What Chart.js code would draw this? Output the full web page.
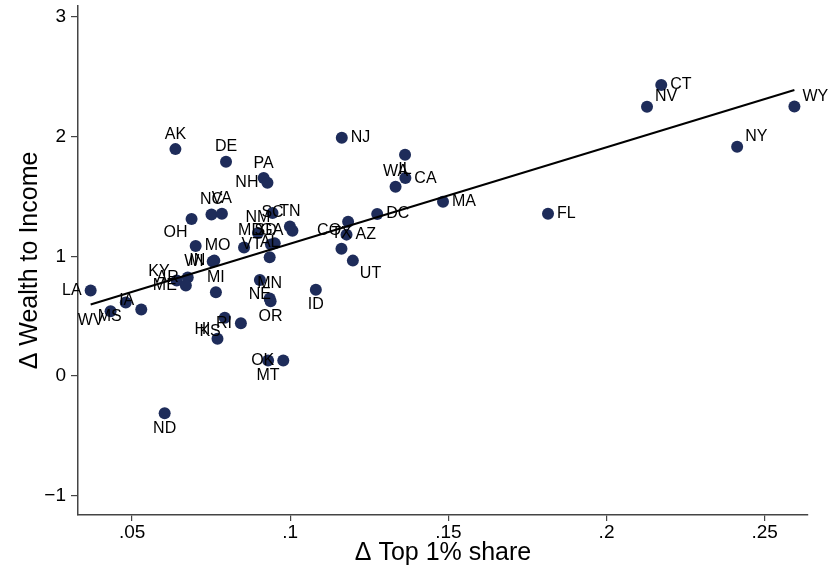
<!DOCTYPE html>
<html><head><meta charset="utf-8">
<script src="https://cdn.jsdelivr.net/npm/chart.js@4.4.1/dist/chart.umd.min.js"></script>
<style>html,body{margin:0;padding:0;background:#fff}#wrap{width:831px;height:571px}</style>
</head><body><div id="wrap"><canvas id="c" width="831" height="571"></canvas></div>
<script>
const states = ['WY','NY','CT','NV','FL','MA','NJ','IL','CA','WA','DC','CO','AZ','TX','UT','ID',
 'AK','DE','PA','NH','NC','VA','OH','MO','WI','IN','KY','AR','ME','MI','LA','IA','MS','WV',
 'KS','RI','HI','MN','NE','OR','OK','MT','ND','SC','TN','GA','SD','AL','VT','NM','MD'];
const top1Change = [0.2594,0.2413,0.2173,0.2128,0.1815,0.1483,0.1163,0.1363,0.1364,0.1333,0.1275,0.1183,0.1178,0.1162,0.1198,0.1081,
 0.0637,0.0797,0.0916,0.0928,0.0751,0.0784,0.0688,0.0701,0.0755,0.0760,0.0641,0.0676,0.0670,0.0765,0.0369,0.0529,0.0480,0.0432,
 0.0793,0.0844,0.0770,0.0935,0.0904,0.0938,0.0978,0.0930,0.0603,0.0944,0.0999,0.1007,0.0951,0.0935,0.0939,0.0898,0.0854];
const wealthIncomeChange = [2.25,1.914,2.431,2.248,1.356,1.456,1.989,1.848,1.653,1.581,1.353,1.289,1.181,1.064,0.964,0.720,
 1.895,1.789,1.653,1.614,1.350,1.356,1.312,1.087,0.956,0.964,0.798,0.823,0.756,0.700,0.714,0.556,0.614,0.542,
 0.487,0.442,0.312,0.648,0.803,0.625,0.131,0.131,-0.311,1.362,1.248,1.214,1.108,0.992,1.098,1.195,1.073];
const labelPos = [2,2,3,2,3,3,3,6,3,12,3,8,3,12,4,6,
 12,12,12,9,12,12,7,3,9,9,10,9,9,12,9,10,7,8,
 7,9,10,12,6,6,9,6,6,0,12,9,11,12,9,12,1];
const fitX = [0.0369, 0.2594];
const fitY = [0.597, 2.389];
const xTicks = [0.05, 0.1, 0.15, 0.2, 0.25];
const xTickLabels = ['.05', '.1', '.15', '.2', '.25'];
const yTicks = [-1, 0, 1, 2, 3];
const yTickLabels = ['\u22121', '0', '1', '2', '3'];
const xTitle = '\u0394 Top 1% share';
const yTitle = '\u0394 Wealth to Income';

const FONT = "'Liberation Sans', Arial, Helvetica, sans-serif";
const OFF = {
  0:[0,0,'center'], 12:[0,-15,'center'], 6:[0,15,'center'], 3:[9,0,'left'], 9:[-9,0,'right'],
  2:[8,-10,'left'], 4:[7,13,'left'], 10:[-7,-9,'right'], 8:[-7,9,'right'], 7:[-4,14,'right'],
  11:[2,-13,'right'], 1:[-6,-17,'left'], 5:[4,14,'left']
};
const labelPlugin = {
  id: 'pointLabels',
  afterDatasetsDraw(chart) {
    const meta = chart.getDatasetMeta(1);
    const ctx = chart.ctx;
    ctx.save();
    ctx.font = '16px ' + FONT;
    ctx.fillStyle = '#000';
    ctx.textBaseline = 'middle';
    meta.data.forEach((pt, i) => {
      const o = OFF[labelPos[i]];
      ctx.textAlign = o[2];
      ctx.fillText(states[i], pt.x + o[0], pt.y + o[1]);
    });
    ctx.restore();
  }
};
function pick(arr, vals, v) {
  const i = vals.findIndex(t => Math.abs(t - v) < 1e-9);
  return i >= 0 ? arr[i] : '';
}
new Chart(document.getElementById('c'), {
  type: 'scatter',
  data: { datasets: [
    { type: 'line', data: fitX.map((x, i) => ({ x, y: fitY[i] })), borderColor: '#000', borderWidth: 2,
      pointRadius: 0, fill: false, order: 0 },
    { data: top1Change.map((x, i) => ({ x, y: wealthIncomeChange[i] })), backgroundColor: '#1e2c5a',
      borderColor: '#1e2c5a', borderWidth: 0, pointRadius: 6, order: 1 }
  ]},
  options: {
    responsive: false, animation: false, devicePixelRatio: 1,
    layout: { padding: { top: 5, right: 23, left: 0, bottom: 0 } },
    plugins: { legend: { display: false }, tooltip: { enabled: false } },
    scales: {
      x: {
        type: 'linear', min: 0.0329, max: 0.2637,
        afterBuildTicks: s => { s.ticks = xTicks.map(v => ({ value: v })); },
        afterFit: s => { s.height = 56; s.paddingLeft = 0; s.paddingRight = 0; },
        ticks: { autoSkip: false, maxRotation: 0, padding: 0, color: '#000',
          font: { family: FONT, size: 19 }, callback: v => pick(xTickLabels, xTicks, v) },
        grid: { drawOnChartArea: false, drawTicks: true, tickLength: 6, color: '#444', lineWidth: 1.2 },
        border: { display: true, color: '#444', width: 1.5 },
        title: { display: true, text: xTitle, color: '#000', font: { family: FONT, size: 25 },
          padding: { top: 0, bottom: 3 } }
      },
      y: {
        type: 'linear', min: -1.16, max: 3.09,
        afterBuildTicks: s => { s.ticks = yTicks.map(v => ({ value: v })); },
        afterFit: s => { s.width = 78; s.paddingTop = 0; s.paddingBottom = 0; },
        ticks: { autoSkip: false, padding: 5, color: '#000',
          font: { family: FONT, size: 19 }, callback: v => pick(yTickLabels, yTicks, v) },
        grid: { drawOnChartArea: false, drawTicks: true, tickLength: 7, color: '#444', lineWidth: 1.2 },
        border: { display: true, color: '#444', width: 1.5 },
        title: { display: true, text: yTitle, color: '#000', font: { family: FONT, size: 25 },
          padding: { top: 15, bottom: 0 } }
      }
    }
  },
  plugins: [labelPlugin]
});
</script></body></html>
